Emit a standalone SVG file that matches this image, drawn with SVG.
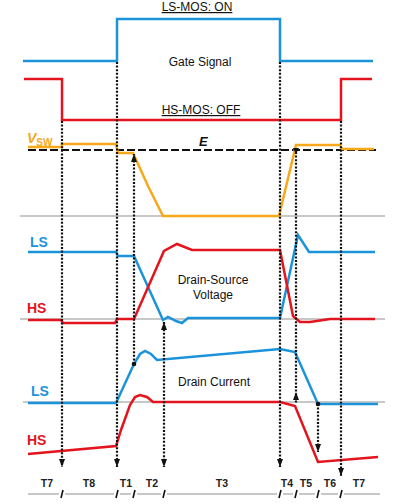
<svg xmlns="http://www.w3.org/2000/svg" width="400" height="504" viewBox="0 0 400 504">
<style>
.lbl{font-family:"Liberation Sans",Arial,sans-serif;font-size:12px;fill:#111;text-anchor:middle}
.tl{font-family:"Liberation Sans",Arial,sans-serif;font-size:10.5px;font-weight:bold;fill:#222;text-anchor:middle}
.sig{font-family:"Liberation Sans",Arial,sans-serif;font-size:14px;font-weight:bold}
.blue{stroke:#1B93DB;fill:none;stroke-width:2.5;stroke-linejoin:miter}
.red{stroke:#E3141E;fill:none;stroke-width:2.5}
.org{stroke:#F7A81B;fill:none;stroke-width:2.5}
.base{stroke:#C8C8C8;stroke-width:2;fill:none}
.dot{stroke:#111;stroke-width:2.2;stroke-dasharray:2 1.6;fill:none}
.tick{stroke:#111;stroke-width:1.6}
</style>
<defs>
<marker id="ah" viewBox="0 0 8 6" refX="8" refY="3" markerWidth="8" markerHeight="6" orient="auto-start-reverse" markerUnits="userSpaceOnUse">
<path d="M0,0 L8,3 L0,6 Z" fill="#111"/>
</marker>
</defs>
<rect width="400" height="504" fill="#fff"/>

<g id="baselines">
<path class="base" d="M20,216 H385"/>
<path class="base" d="M20,319 H385"/>
<path class="base" d="M23,402 H385"/>
<path class="base" d="M28,494 H59 M65,494 H114 M120,494 H131 M137,494 H161 M167,494 H277 M283,494 H293 M299,494 H315 M321,494 H338 M344,494 H380"/>
</g>

<g id="gate-ls"><path class="blue" d="M23,61 H117 V19 H280 V61 H373"/></g>
<g id="gate-hs"><path class="red" d="M24,79 H62 V120 H341 V79 H372"/></g>

<g id="e-line"><path d="M28,150 H376" stroke="#111" stroke-width="2.2" stroke-dasharray="8 3"/></g>
<g id="vsw"><path class="org" d="M28,147 H62 V144 H116 L118,153 H133 L148,186 L163,216 H279 L296,145 H340 L342,149 H374"/></g>

<g id="vds-ls"><path class="blue" d="M28,252 H116 L118,256 H134 L163,320 L168,317 L176,321 L182,323 L188,318 H280 L298,235 L309,252 H375"/></g>
<g id="vds-hs"><path class="red" d="M28,320 H61 L63,323 H115 L117,319 H134 L164,251 L177,244 L192,250 H280 L293,316 L300,322 L310,322 L330,319 H375"/></g>

<g id="id-ls"><path class="blue" d="M28,403 H116 L134,364 L140,354 L145,351 L151,354 L157,360 L280,349 L295,352 L318,404 H378"/></g>
<g id="id-hs"><path class="red" d="M28,454 L116,446 L121,430 L130,405 L135,397 L140,395 L147,397 L153,402 H280 L295,406 L318,462 L378,457"/></g>

<g id="connectors">
<path class="dot" d="M62,121 V467" marker-end="url(#ah)"/>
<path class="dot" d="M117,62 V467" marker-end="url(#ah)"/>
<path class="dot" d="M134,364 V154" marker-end="url(#ah)"/>
<path class="dot" d="M164,322 V467" marker-start="url(#ah)" marker-end="url(#ah)"/>
<path class="dot" d="M280,62 V467" marker-end="url(#ah)"/>
<path class="dot" d="M296,152 V403"/>
<path d="M293,400 L296,392 L299,400 Z" fill="#111"/>
<path d="M293,148 L296,154 L299,148 Z" fill="#111"/>
<path class="dot" d="M318,404 V452" marker-end="url(#ah)"/>
<path class="dot" d="M341,121 V476" marker-end="url(#ah)"/>
<circle cx="134" cy="364" r="2.3" fill="#111"/>
<circle cx="318" cy="404" r="2.3" fill="#111"/>
</g>

<g id="ticks">
<path class="tick" d="M61,498 L63,490 M116,498 L118,490 M133,498 L135,490 M163,498 L165,490 M279,498 L281,490 M295,498 L297,490 M317,498 L319,490 M340,498 L342,490"/>
</g>

<g id="labels">
<text class="lbl" x="197" y="11" text-decoration="underline">LS-MOS: ON</text>
<text class="lbl" x="200" y="66">Gate Signal</text>
<text class="lbl" x="201" y="114" text-decoration="underline">HS-MOS: OFF</text>
<text x="27" y="143" font-family="Liberation Sans,Arial,sans-serif" font-size="14" font-weight="bold" font-style="italic" fill="#F7A81B">V<tspan font-size="10" font-style="normal" dy="3">SW</tspan></text>
<text x="199" y="146" font-family="Liberation Sans,Arial,sans-serif" font-size="13" font-weight="bold" font-style="italic" fill="#111">E</text>
<text class="sig" x="30" y="247" fill="#1B93DB">LS</text>
<text class="sig" x="27" y="313" fill="#E3141E">HS</text>
<text class="lbl" x="213" y="284">Drain-Source</text>
<text class="lbl" x="213" y="299">Voltage</text>
<text class="sig" x="31" y="396" fill="#1B93DB">LS</text>
<text class="sig" x="27" y="445" fill="#E3141E">HS</text>
<text class="lbl" x="214" y="386">Drain Current</text>
<text class="tl" x="47" y="487">T7</text>
<text class="tl" x="89" y="487">T8</text>
<text class="tl" x="126" y="487">T1</text>
<text class="tl" x="152" y="487">T2</text>
<text class="tl" x="222" y="487">T3</text>
<text class="tl" x="287" y="487">T4</text>
<text class="tl" x="306" y="487">T5</text>
<text class="tl" x="330" y="487">T6</text>
<text class="tl" x="359" y="487">T7</text>
</g>
</svg>
